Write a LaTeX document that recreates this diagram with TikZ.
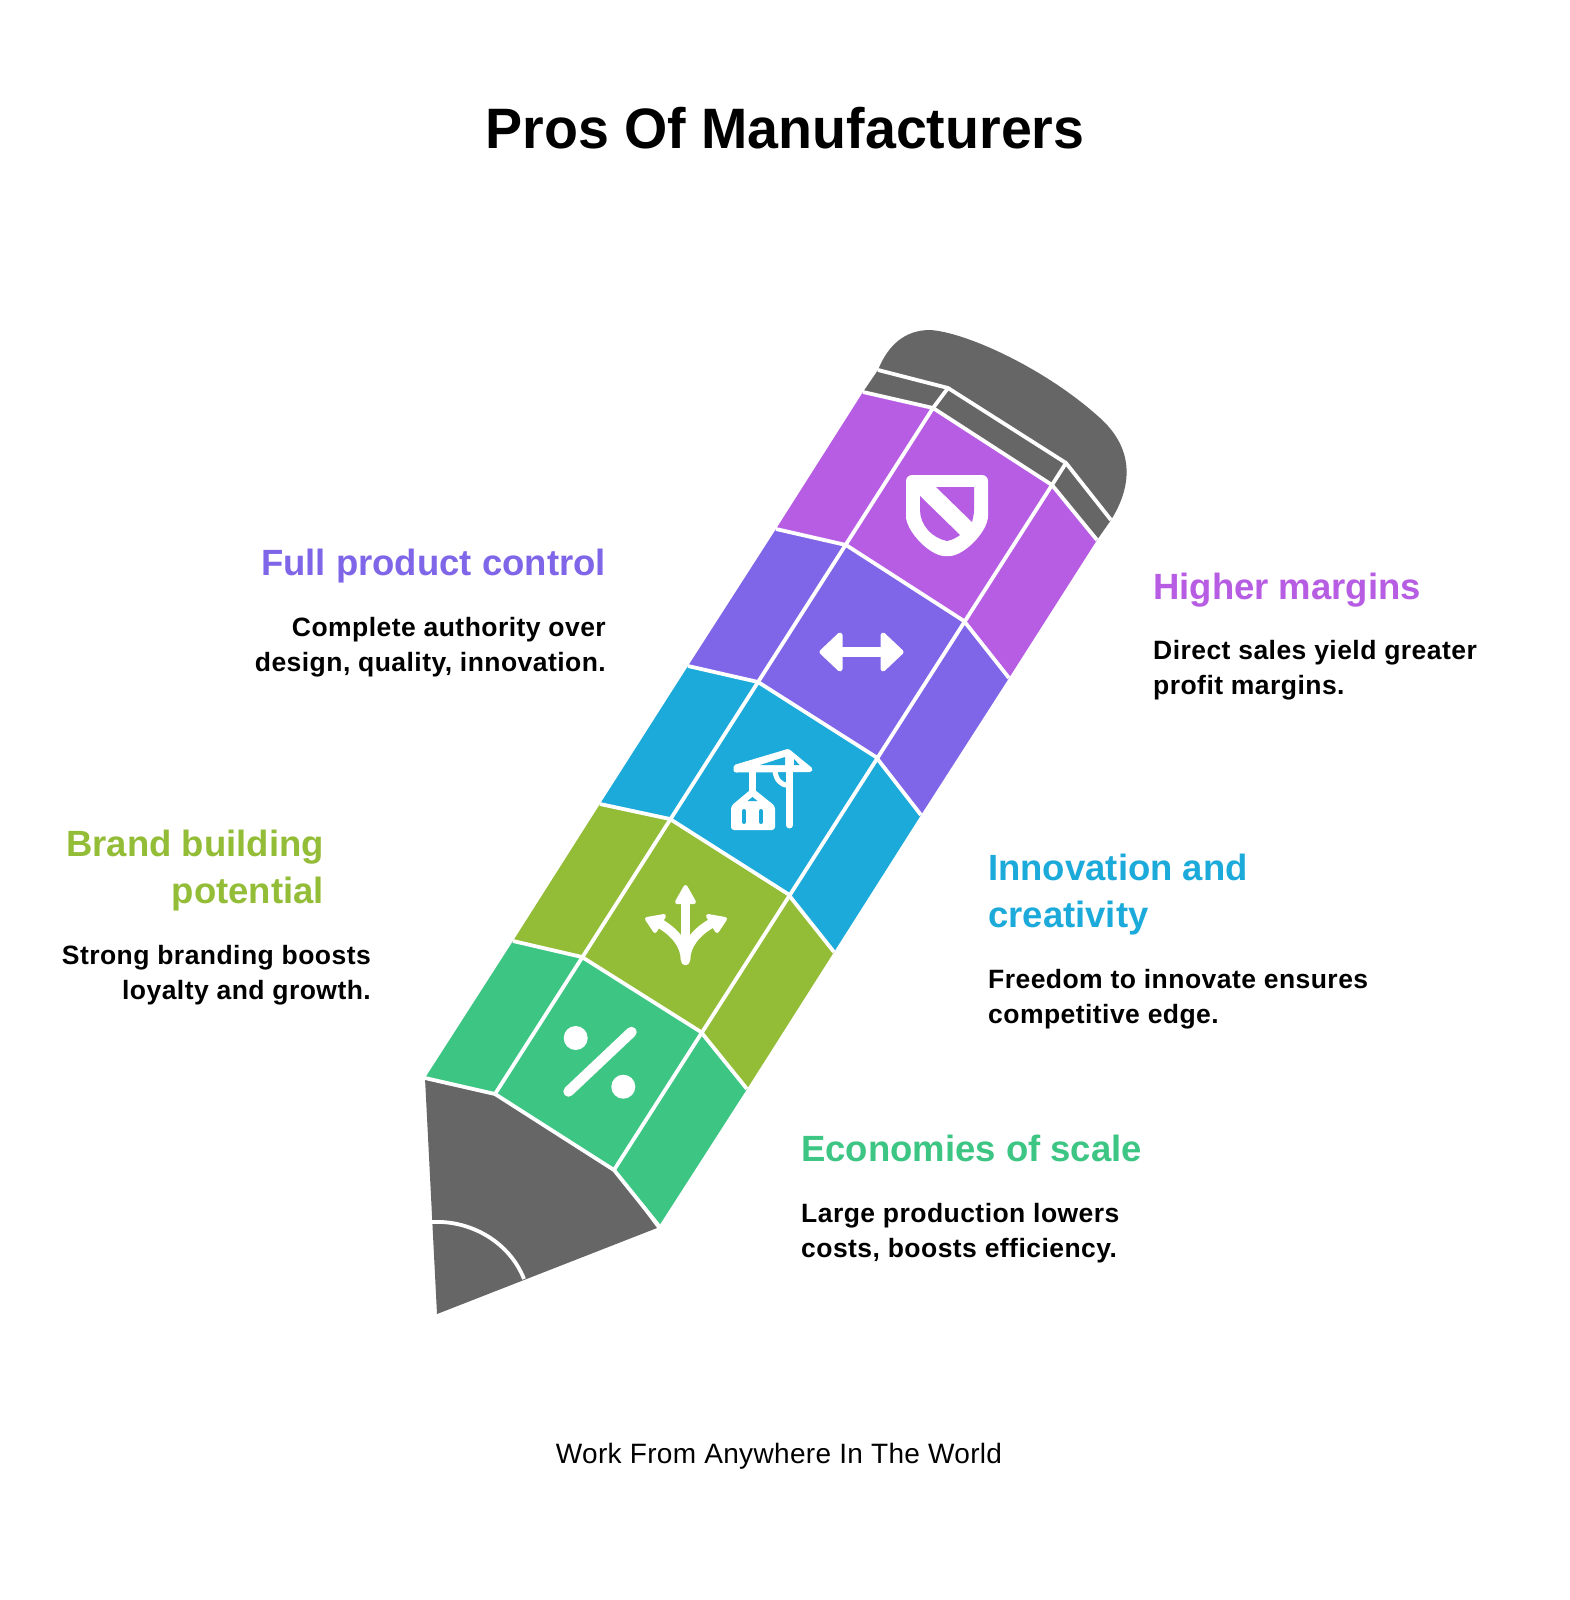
\documentclass[tikz,border=0pt]{standalone}
\usepackage{fontspec}
\setmainfont{Liberation Sans}
\newfontfamily\titlefont[FakeStretch=0.975]{Liberation Sans}
\newfontfamily\bodyfont[LetterSpace=1.7]{Liberation Sans}
\newfontfamily\footerfont[LetterSpace=1.2]{Liberation Sans}
\definecolor{capgray}{HTML}{666666}
\definecolor{marginpurple}{HTML}{B75DE4}
\definecolor{controlviolet}{HTML}{7F65E8}
\definecolor{innovblue}{HTML}{1CAADA}
\definecolor{brandolive}{HTML}{93BC37}
\definecolor{scalegreen}{HTML}{3DC584}
\tikzset{
	titletext/.style={font=\titlefont\fontsize{57}{57}\selectfont\bfseries, inner sep=0},
	headtext/.style={font=\fontsize{36.5}{47}\selectfont\bfseries, inner sep=0},
	bodytext/.style={font=\bodyfont\fontsize{26.5}{35}\selectfont\bfseries, inner sep=0},
	footertext/.style={font=\footerfont\fontsize{28}{28}\selectfont, inner sep=0},
	gapline/.style={draw=white, line width=3.8pt, line join=round},
	iconline/.style={draw=white, line cap=round, line join=round},
}
\def\pencilrow#1#2#3{\fill[#1] (L#2) -- (A#2) -- (B#2) -- (R#2) -- (R#3) -- (B#3) -- (A#3) -- (L#3) -- cycle;}
\def\rowline#1{\draw[gapline] (L#1) -- (A#1) -- (B#1) -- (R#1);}

\begin{document}
\begin{tikzpicture}[x=1pt, y=-1pt]
		%%%%% START %%%%%
		\useasboundingbox (0, 0) rectangle (1570, 1600);
		\fill[white] (0, 0) rectangle (1570, 1600);
		
		\coordinate (L0) at (863, 392);
		\coordinate (A0) at (933, 408);
		\coordinate (B0) at (1052, 485);
		\coordinate (R0) at (1097, 540);
		\coordinate (L1) at (776, 529);
		\coordinate (A1) at (846, 545);
		\coordinate (B1) at (964, 621);
		\coordinate (R1) at (1009, 678);
		\coordinate (L2) at (688, 666);
		\coordinate (A2) at (758, 682);
		\coordinate (B2) at (876, 757);
		\coordinate (R2) at (921, 815);
		\coordinate (L3) at (600, 804);
		\coordinate (A3) at (670, 819);
		\coordinate (B3) at (788, 894);
		\coordinate (R3) at (834, 952);
		\coordinate (L4) at (513, 941);
		\coordinate (A4) at (582, 957);
		\coordinate (B4) at (701, 1032);
		\coordinate (R4) at (747, 1089);
		\coordinate (L5) at (425, 1078);
		\coordinate (A5) at (495, 1094);
		\coordinate (B5) at (614, 1170);
		\coordinate (R5) at (659, 1226);
		
		% pencil body
		\pencilrow{marginpurple}{0}{1}
		\pencilrow{controlviolet}{1}{2}
		\pencilrow{innovblue}{2}{3}
		\pencilrow{brandolive}{3}{4}
		\pencilrow{scalegreen}{4}{5}
		
		% cap and ferrule
		\coordinate (C1) at (878, 370);
		\coordinate (C2) at (948, 388);
		\coordinate (C3) at (1066, 463);
		\coordinate (C4) at (1111, 520);
		\fill[capgray] (L0) -- (C1) .. controls (888, 345) and (905, 330) .. (930, 330) .. controls (965, 332) and (1045, 368) .. (1100, 418) .. controls (1130, 445) and (1136, 480) .. (C4) -- (R0) -- (B0) -- (A0) -- cycle;
		\draw[gapline] (C1) -- (C2) -- (C3) -- (C4);
		\draw[gapline] (C2) -- (A0);
		\draw[gapline] (C3) -- (B0);
		
		% tip
		\coordinate (T0) at (437, 1314);
		\coordinate (T1) at (432, 1222);
		\coordinate (T2) at (524, 1279);
		\coordinate (T3) at (657, 1228);
		\fill[capgray] (L5) -- (A5) -- (B5) -- (T3) -- (T0) -- cycle;
		\draw[gapline] (T1) .. controls (472, 1220) and (510, 1243) .. (T2);
		
		% gaps between the rows and columns
		\rowline{0}
		\rowline{1}
		\rowline{2}
		\rowline{3}
		\rowline{4}
		\rowline{5}
		\draw[gapline] (A0) -- (A5);
		\draw[gapline] (B0) -- (B5);
		
		% shield
		\fill[white, rounded corners=6pt] (906, 475) -- (988, 475) -- (988, 510) .. controls (988, 530) and (968, 552) .. (947, 557) .. controls (926, 552) and (906, 530) .. (906, 510) -- cycle;
		\fill[marginpurple] (936, 487) -- (974, 487) -- (974, 510) .. controls (974, 514) and (973, 518) .. (972, 522) -- cycle;
		\fill[marginpurple] (920, 496) -- (960, 535) .. controls (956, 538) and (952, 540) .. (947, 541) .. controls (932, 538) and (920, 525) .. (920, 510) -- cycle;
		
		% double arrow
		\draw[iconline, fill=white, line width=5pt] (822, 652) -- (840, 635) -- (840, 669) -- cycle;
		\draw[iconline, fill=white, line width=5pt] (901, 652) -- (883, 635) -- (883, 669) -- cycle;
		\draw[iconline, line width=10pt, line cap=butt] (840, 652) -- (883, 652);
		
		% crane
		\draw[iconline, fill=white, line width=5pt] (736, 767) -- (788, 751.5) -- (810, 769.5) -- (736, 770) -- cycle;
		\fill[innovblue] (760, 765) -- (785, 757) -- (785, 765) -- cycle;
		\fill[innovblue] (794, 759) -- (799.5, 765) -- (794, 765) -- cycle;
		\draw[iconline, line width=7pt] (789.5, 768) -- (789.5, 825);
		\draw[iconline, line width=7pt] (752.5, 768) -- (752.5, 790);
		\draw[iconline, line width=5pt, line cap=butt] (775, 771) .. controls (776, 780) and (781, 785) .. (788, 785.5);
		\fill[white, rounded corners=3pt] (731, 806) -- (752.5, 788) -- (775, 806) -- (775, 830) -- (731, 830) -- cycle;
		\fill[innovblue] (747.5, 801) -- (752.5, 797) -- (757.5, 801) -- cycle;
		\draw[line cap=round, line width=4pt, draw=innovblue] (744, 811) -- (744, 822);
		\draw[line cap=round, line width=4pt, draw=innovblue] (761, 811) -- (761, 822);
		
		% three way arrow
		\draw[iconline, fill=white, line width=4pt] (685.5, 887) -- (677, 902) -- (694, 902) -- cycle;
		\draw[iconline, line width=8.5pt] (685.5, 902) -- (685.5, 961);
		\draw[iconline, fill=white, line width=4pt] (647, 919) -- (664, 916) -- (655, 931) -- cycle;
		\draw[iconline, fill=white, line width=4pt] (725, 919) -- (708, 916) -- (717, 931) -- cycle;
		\draw[iconline, line width=9.5pt, line cap=butt] (659, 923) .. controls (675, 932) and (685.5, 945) .. (685.5, 960);
		\draw[iconline, line width=9.5pt, line cap=butt] (712, 923) .. controls (696, 932) and (685.5, 945) .. (685.5, 960);
		
		% percent sign
		\fill[white] (575.7, 1038) circle (12);
		\fill[white] (623.3, 1086.7) circle (12);
		\draw[iconline, line width=10.5pt] (568.5, 1091.5) -- (631.5, 1032);
		
		% texts
		\node[titletext, anchor=base] (title) at (785, 149) {Pros Of Manufacturers};
		\node[headtext, text=controlviolet, anchor=base east] (controlhead) at (606, 575) {Full product control};
		\node[bodytext, align=right, anchor=base east] (controlbody) at (606, 671) {Complete authority over\\design, quality, innovation.};
		\node[headtext, text=marginpurple, anchor=base west] (marginhead) at (1153, 599) {Higher margins};
		\node[bodytext, align=left, anchor=base west] (marginbody) at (1153, 694) {Direct sales yield greater\\profit margins.};
		\node[headtext, text=innovblue, align=left, anchor=base west] (innovhead) at (988, 927) {Innovation and\\creativity};
		\node[bodytext, align=left, anchor=base west] (innovbody) at (988, 1023) {Freedom to innovate ensures\\competitive edge.};
		\node[headtext, text=scalegreen, anchor=base west] (scalehead) at (801, 1161) {Economies of scale};
		\node[bodytext, align=left, anchor=base west] (scalebody) at (801, 1257) {Large production lowers\\costs, boosts efficiency.};
		\node[headtext, text=brandolive, align=right, anchor=base east] (brandhead) at (324, 903) {Brand building\\potential};
		\node[bodytext, align=right, anchor=base east] (brandbody) at (371, 999) {Strong branding boosts\\loyalty and growth.};
		\node[footertext, anchor=base] (footer) at (779, 1463) {Work From Anywhere In The World};
		
		%%%%% END %%%%%
	\end{tikzpicture}
\end{document}
